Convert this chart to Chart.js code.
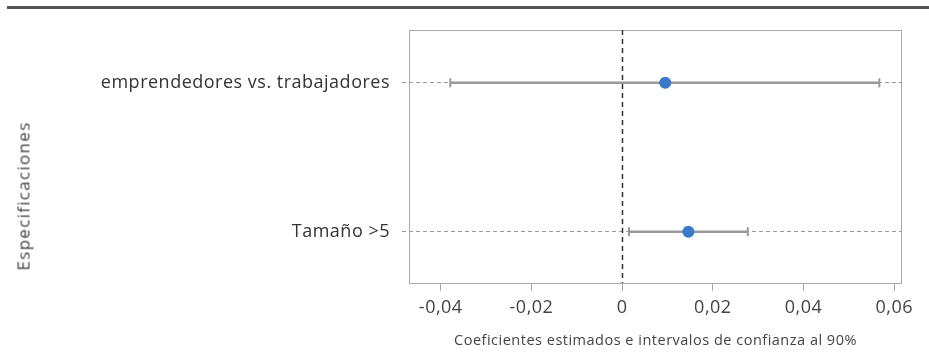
<!DOCTYPE html>
<html>
<head>
  <meta charset="UTF-8">
  <title>Coeficientes estimados</title>
  <script src="https://cdn.jsdelivr.net/npm/chart.js@4.4.4/dist/chart.umd.min.js"></script>
  <style>
    body { margin: 0; background: #fff; }
    .wrap { position: relative; width: 929px; height: 356px; }
    .topbar { position: absolute; left: 7px; top: 6px; width: 922px; height: 3px; background: #555; }
    .ytitle {
      position: absolute; left: 23px; top: 196px;
      transform: translate(-50%, -50%) rotate(-90deg);
      font: 17px "Open Sans", sans-serif; letter-spacing: 1.3px; color: #444; white-space: nowrap;
    }
  </style>
</head>
<body>
<div class="wrap">
  <div class="topbar"></div>
  <canvas id="chart" width="929" height="356"></canvas>
  <div class="ytitle">Especificaciones</div>
</div>

<script>
  // categories, bottom to top (y = 0, 1)
  const categories = ['Tamaño >5', 'emprendedores vs. trabajadores'];
  const estimates = [0.0146, 0.0095];
  const ciLow = [0.0015, -0.0379];
  const ciHigh = [0.0277, 0.0567];
  const xTicks = [-0.04, -0.02, 0, 0.02, 0.04, 0.06];

  const fmt = v => v === 0 ? '0' : v.toFixed(2).replace('.', ',');

  // a little extra letter spacing, like the original typeface
  const spacing = {
    id: 'spacing',
    beforeDraw(chart) { chart.ctx.letterSpacing = '0.5px'; }
  };

  // border round the plot + dashed zero line
  const frame = {
    id: 'frame',
    beforeDatasetsDraw(chart) {
      const { ctx, chartArea: a, scales } = chart;
      ctx.save();
      ctx.strokeStyle = '#aaa';
      ctx.lineWidth = 1;
      ctx.strokeRect(a.left + 0.5, a.top + 0.5, a.right - a.left - 1, a.bottom - a.top);
      const x0 = Math.round(scales.x.getPixelForValue(0)) + 0.5;
      ctx.strokeStyle = '#333';
      ctx.lineWidth = 1.5;
      ctx.setLineDash([5, 4]);
      ctx.beginPath();
      ctx.moveTo(x0, a.top);
      ctx.lineTo(x0, a.bottom);
      ctx.stroke();
      ctx.restore();
    }
  };

  const ciSets = categories.map((c, i) => ({
    label: c,
    data: [{ x: ciLow[i], y: i }, { x: ciHigh[i], y: i }],
    showLine: true,
    borderColor: '#999',
    borderWidth: 2.5,
    pointStyle: 'line',
    rotation: 90,
    pointRadius: 4.5,
    pointBorderWidth: 2,
    pointBorderColor: '#999',
    pointHoverRadius: 4.5,
    order: 2
  }));

  const pointSet = {
    label: 'Coeficiente',
    data: categories.map((c, i) => ({ x: estimates[i], y: i })),
    backgroundColor: '#3a78c9',
    borderWidth: 0,
    pointRadius: 6,
    pointHoverRadius: 6,
    order: 1
  };

  new Chart(document.getElementById('chart'), {
    type: 'scatter',
    data: { datasets: [...ciSets, pointSet] },
    options: {
      responsive: false,
      animation: false,
      layout: { padding: { top: 30, right: 27, left: 0, bottom: 0 } },
      plugins: { legend: { display: false }, tooltip: { enabled: false } },
      scales: {
        x: {
          type: 'linear',
          min: -0.047,
          max: 0.0617,
          afterBuildTicks: s => { s.ticks = xTicks.map(v => ({ value: v })); },
          afterFit: s => { s.height = 73; },
          ticks: {
            callback: v => fmt(v),
            color: '#444',
            font: { family: '"Open Sans", sans-serif', size: 18 },
            padding: 6,
            maxRotation: 0
          },
          grid: {
            drawOnChartArea: false,
            drawTicks: true,
            tickLength: 8,
            tickColor: '#aaa',
            tickBorderDash: []
          },
          border: { display: false },
          title: {
            display: true,
            text: 'Coeficientes estimados e intervalos de confianza al 90%',
            color: '#444',
            font: { family: '"Open Sans", sans-serif', size: 14.5 },
            padding: { top: 4, bottom: 6 }
          }
        },
        y: {
          type: 'linear',
          min: -0.345,
          max: 1.355,
          afterBuildTicks: s => { s.ticks = categories.map((c, i) => ({ value: i })); },
          afterFit: s => { s.width = 409; },
          ticks: {
            callback: v => categories[v],
            color: '#333',
            font: { family: '"Open Sans", sans-serif', size: 18 },
            padding: 12
          },
          grid: {
            color: '#999',
            lineWidth: 1,
            tickLength: 7,
            tickColor: '#999',
            tickBorderDash: [4, 3]
          },
          border: { display: false, dash: [4, 3] }
        }
      }
    },
    plugins: [spacing, frame]
  });
</script>
</body>
</html>
